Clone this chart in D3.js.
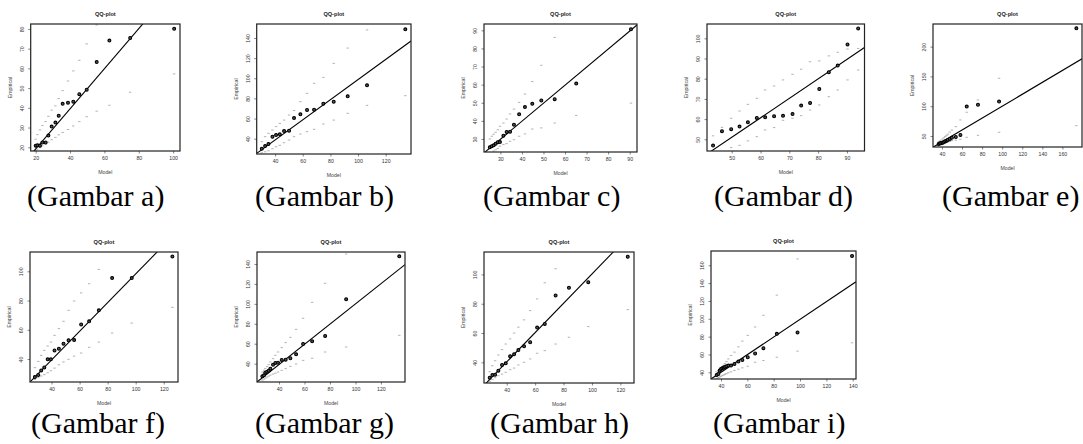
<!DOCTYPE html>
<html>
<head>
<meta charset="utf-8">
<script src="https://cdn.jsdelivr.net/npm/d3@7"></script>
<style>
  html, body { margin: 0; padding: 0; background: #fff; }
  svg { display: block; }
</style>
</head>
<body>
<svg id="chart" width="1083" height="444"></svg>
<script>
// ---------------- DATA ----------------
const panelIds = ["a", "b", "c", "d", "e", "f", "g", "h", "i"];
const captions = ["(Gambar a)", "(Gambar b)", "(Gambar c)", "(Gambar d)", "(Gambar e)",
                  "(Gambar f)", "(Gambar g)", "(Gambar h)", "(Gambar i)"];
const plotTitle = "QQ-plot";
const xLabel = "Model";
const yLabel = "Empirical";

// Panel a
const modelA = [20.0,21.0,22.5,23.9,25.8,27.4,29.3,31.5,33.4,35.7,38.8,41.9,45.4,49.7,55.5,62.9,75.0,100.6];
const empA   = [20.8,21.0,20.8,22.4,22.4,25.9,30.5,32.5,36.0,42.0,42.6,43.1,46.9,49.2,63.2,74.1,75.4,80.1];
const upperA = [24.1,26.4,28.8,31.0,33.0,35.7,38.8,41.0,44.7,48.7,53.6,58.7,64.1,72.4,82.0,95.0,115.0,150.0];
const lowerA = [18.3,19.0,19.8,20.7,21.6,22.6,23.8,25.0,26.3,27.5,29.0,30.8,33.0,35.5,38.3,41.3,47.9,57.2];
const xDomA = [17.1, 104.0], yDomA = [18.1, 82.5];
const xTicksA = [20,40,60,80,100], yTicksA = [20,30,40,50,60,70,80];
const lineA = [1.017, -1.2];

// Panel b
const modelB = [30.4,32.8,35.2,38.1,40.7,43.4,46.5,50.1,53.7,58.3,63.1,68.2,74.9,82.4,92.5,106.5,134.2];
const empB   = [30.1,32.7,34.7,42.0,43.6,44.3,47.6,48.0,60.5,64.2,68.5,68.8,74.8,76.8,82.1,93.0,148.6];
const upperB = [37.0,42.0,45.3,48.6,52.0,55.2,58.5,63.5,68.0,76.8,85.0,95.0,100.9,114.8,130.0,148.0,190.0];
const lowerB = [26.0,27.0,28.0,30.0,32.0,33.4,36.0,38.7,42.0,44.6,47.0,49.3,54.6,58.5,65.2,73.1,82.7];
const xDomB = [26.7, 138.3], yDomB = [24.8, 153.9];
const xTicksB = [40,60,80,100,120], yTicksB = [40,60,80,100,120,140];
const lineB = [1.0, -1.3];

// Panel c
const modelC = [25.1,26.0,26.9,27.8,28.8,29.8,31.4,32.9,34.5,36.3,38.7,41.4,44.8,49.0,55.2,65.2,90.6];
const empC   = [25.4,26.0,26.5,27.4,28.2,28.3,31.8,33.9,34.0,37.9,43.6,47.6,49.4,51.3,52.0,60.6,90.6];
const upperC = [30.0,31.5,32.6,33.7,35.1,37.0,38.8,41.0,43.8,46.5,50.2,54.8,61.7,70.7,86.1,110.0,160.0];
const lowerC = [22.0,22.6,23.3,24.0,24.8,26.0,26.9,27.4,28.7,29.6,31.5,32.8,35.5,36.1,38.8,43.0,49.8];
const xDomC = [22.4, 93.4], yDomC = [22.8, 93.5];
const xTicksC = [30,40,50,60,70,80,90], yTicksC = [30,40,50,60,70,80,90];
const lineC = [0.995, 0.0];

// Panel d
const modelD = [43.5,46.6,49.8,52.7,55.6,58.7,61.6,64.7,67.8,71.1,74.1,77.2,80.4,83.7,86.8,90.2,93.9];
const empD   = [46.9,54.0,55.0,56.3,58.4,60.6,60.9,61.4,61.6,62.5,66.7,68.0,74.9,83.2,86.5,97.0,104.9];
const upperD = [51.7,55.9,60.4,64.0,67.3,70.3,74.4,76.4,79.4,82.2,84.7,88.4,88.8,91.3,93.1,94.7,95.0];
const lowerD = [42.0,44.0,45.9,47.0,49.2,51.3,54.6,55.8,59.4,60.4,61.7,64.5,67.0,71.1,74.4,79.4,84.3];
const xDomD = [41.4, 96.1], yDomD = [44.2, 107.1];
const xTicksD = [50,60,70,80,90], yTicksD = [50,60,70,80,90,100];
const lineD = [0.964, 2.8];

// Panel e
const modelE = [36.7,38.0,39.3,40.7,42.0,43.3,44.6,45.9,47.9,49.9,53.8,58.4,64.7,75.9,96.9,173.9];
const empE   = [36.6,37.7,38.2,38.8,39.9,41.0,42.2,43.3,45.0,47.2,48.3,51.7,99.3,102.6,107.7,230.8];
const upperE = [40.0,41.5,43.0,45.0,47.0,49.0,51.0,53.0,56.5,60.0,65.7,76.9,89.8,110.5,146.9,300.0];
const lowerE = [33.0,34.0,35.0,36.0,37.0,38.0,39.0,40.0,41.0,42.0,43.0,44.4,47.8,51.1,56.2,67.4];
const xDomE = [31.1, 179.5], yDomE = [31.5, 238.0];
const xTicksE = [40,60,80,100,120,140,160], yTicksE = [50,100,150,200];
const lineE = [1.0, 0.0];

// Panel f
const modelF = [28.1,30.5,32.6,34.8,37.2,39.5,42.1,45.2,48.5,52.1,56.1,61.1,66.8,73.7,83.2,97.2,126.2];
const empF   = [27.7,29.1,32.2,34.3,39.8,39.8,45.9,47.1,50.5,52.8,53.0,63.7,65.8,73.3,95.4,95.4,110.2];
const upperF = [34.1,38.4,42.5,45.9,48.9,51.6,56.2,60.8,65.8,73.3,79.7,85.2,91.5,101.3,120.0,140.0,180.0];
const lowerF = [26.0,27.3,28.4,29.3,30.6,32.0,33.8,36.1,38.0,39.8,42.0,44.1,48.0,51.6,57.8,64.6,75.3];
const xDomF = [24.6, 130.2], yDomF = [24.3, 113.2];
const xTicksF = [40,60,80,100,120], yTicksF = [40,60,80,100];
const lineF = [0.98, 0.2];

// Panel g
const modelG = [26.9,28.2,29.2,30.6,31.9,33.2,35.3,37.1,39.2,42.1,45.2,48.9,53.4,58.9,66.0,76.2,92.7,134.4];
const empG   = [27.3,28.3,31.0,32.0,33.0,35.0,39.0,40.7,41.0,43.7,44.0,45.4,49.4,59.7,62.4,67.8,104.5,147.7];
const upperG = [31.5,33.3,35.0,37.0,39.0,41.7,45.0,48.4,51.7,56.1,61.1,66.4,74.4,85.5,101.5,120.6,150.0,220.0];
const lowerG = [23.5,24.5,25.5,26.5,27.5,28.5,29.5,30.5,31.6,33.3,35.0,37.3,39.7,43.3,45.4,51.7,56.7,68.4];
const xDomG = [22.7, 138.9], yDomG = [21.6, 152.0];
const xTicksG = [40,60,80,100,120], yTicksG = [40,60,80,100,120,140];
const lineG = [1.013, -1.4];

// Panel h
const modelH = [28.0,29.9,31.8,34.1,36.7,39.3,42.4,45.2,48.2,52.2,56.5,61.4,66.8,74.4,83.8,97.4,125.2];
const empH   = [29.5,31.3,31.6,34.3,38.2,39.3,44.1,45.5,48.4,50.9,53.7,63.7,66.2,85.6,90.9,94.7,112.1];
const upperH = [33.6,37.7,41.1,45.0,48.7,52.5,56.0,60.0,64.0,69.0,75.3,83.3,94.3,103.9,125.0,150.0,200.0];
const lowerH = [27.0,28.2,29.5,30.9,32.0,33.2,35.0,36.1,38.2,40.0,42.3,46.2,48.0,52.5,57.1,64.4,76.0];
const xDomH = [24.0, 129.6], yDomH = [25.9, 115.3];
const xTicksH = [40,60,80,100,120], yTicksH = [40,60,80,100];
const lineH = [1.0, 0.3];

// Panel i
const modelI = [36.7,38.0,39.0,40.0,41.0,42.0,43.0,44.1,45.6,47.6,50.2,53.2,56.2,60.3,65.9,72.2,82.4,98.1,139.5];
const empI   = [37.0,38.1,41.9,43.8,44.5,45.3,46.0,46.8,47.5,47.5,49.4,52.0,53.9,56.9,61.1,67.1,83.2,84.7,170.5];
const upperI = [40.5,42.0,43.5,45.0,46.5,48.0,49.8,52.0,55.0,58.8,62.6,68.6,75.0,81.4,90.8,103.9,126.5,167.1,250.0];
const lowerI = [33.2,34.0,34.8,35.6,36.3,37.0,37.8,38.5,39.5,40.5,42.0,43.5,45.0,46.8,51.3,53.2,56.9,63.7,73.1];
const xDomI = [32.4, 142.5], yDomI = [32.5, 176.0];
const xTicksI = [40,60,80,100,120,140], yTicksI = [40,60,80,100,120,140,160];
const lineI = [0.99, 0.4];

// ---------------- LAYOUT (pixel boxes of each plot frame) ----------------
const boxes = {
  a: {L: 30.7, R: 180, T: 24, B: 151},
  b: {L: 256.7, R: 411, T: 24, B: 154},
  c: {L: 484, R: 637, T: 24, B: 152},
  d: {L: 707, R: 864.5, T: 24, B: 151},
  e: {L: 933, R: 1082, T: 24, B: 147},
  f: {L: 30, R: 178, T: 252, B: 382},
  g: {L: 257, R: 405, T: 252, B: 382},
  h: {L: 484, R: 634, T: 252, B: 383},
  i: {L: 711, R: 856, T: 251, B: 379}
};
const captionPos = {
  a: [27, 206], b: [255, 206], c: [483, 206], d: [714, 206], e: [942, 206],
  f: [31, 433], g: [255, 433], h: [490, 433], i: [713, 433]
};

const panels = [
  {id:"a", model:modelA, emp:empA, upper:upperA, lower:lowerA, xd:xDomA, yd:yDomA, xt:xTicksA, yt:yTicksA, line:lineA},
  {id:"b", model:modelB, emp:empB, upper:upperB, lower:lowerB, xd:xDomB, yd:yDomB, xt:xTicksB, yt:yTicksB, line:lineB},
  {id:"c", model:modelC, emp:empC, upper:upperC, lower:lowerC, xd:xDomC, yd:yDomC, xt:xTicksC, yt:yTicksC, line:lineC},
  {id:"d", model:modelD, emp:empD, upper:upperD, lower:lowerD, xd:xDomD, yd:yDomD, xt:xTicksD, yt:yTicksD, line:lineD},
  {id:"e", model:modelE, emp:empE, upper:upperE, lower:lowerE, xd:xDomE, yd:yDomE, xt:xTicksE, yt:yTicksE, line:lineE},
  {id:"f", model:modelF, emp:empF, upper:upperF, lower:lowerF, xd:xDomF, yd:yDomF, xt:xTicksF, yt:yTicksF, line:lineF},
  {id:"g", model:modelG, emp:empG, upper:upperG, lower:lowerG, xd:xDomG, yd:yDomG, xt:xTicksG, yt:yTicksG, line:lineG},
  {id:"h", model:modelH, emp:empH, upper:upperH, lower:lowerH, xd:xDomH, yd:yDomH, xt:xTicksH, yt:yTicksH, line:lineH},
  {id:"i", model:modelI, emp:empI, upper:upperI, lower:lowerI, xd:xDomI, yd:yDomI, xt:xTicksI, yt:yTicksI, line:lineI}
];

// ---------------- DRAW ----------------
const svg = d3.select("#chart");
const sans = "'Liberation Sans', Arial, sans-serif";
const defs = svg.append("defs");

panels.forEach((p, k) => {
  const b = boxes[p.id];
  const x = d3.scaleLinear().domain(p.xd).range([b.L, b.R]);
  const y = d3.scaleLinear().domain(p.yd).range([b.B, b.T]);
  const g = svg.append("g").attr("class", "panel-" + p.id);

  defs.append("clipPath").attr("id", "clip-" + p.id)
    .append("rect").attr("x", b.L).attr("y", b.T)
    .attr("width", b.R - b.L).attr("height", b.B - b.T);

  const plot = g.append("g").attr("clip-path", "url(#clip-" + p.id + ")");

  // envelope dashes
  const env = [];
  p.model.forEach((m, j) => {
    env.push({x: m, y: p.upper[j]});
    env.push({x: m, y: p.lower[j]});
  });
  plot.selectAll("line.env").data(env.filter(d => d.y >= p.yd[0] && d.y <= p.yd[1]))
    .enter().append("line").attr("class", "env")
    .attr("x1", d => x(d.x) - 1.2).attr("x2", d => x(d.x) + 1.2)
    .attr("y1", d => y(d.y)).attr("y2", d => y(d.y))
    .attr("stroke", "#a0a0a0").attr("stroke-width", 0.8);

  // reference line
  const [s, c0] = p.line;
  plot.append("line")
    .attr("x1", x(p.xd[0])).attr("y1", y(s * p.xd[0] + c0))
    .attr("x2", x(p.xd[1])).attr("y2", y(s * p.xd[1] + c0))
    .attr("stroke", "#000").attr("stroke-width", 1.1);

  // points
  plot.selectAll("circle").data(p.model.map((m, j) => ({x: m, y: p.emp[j]})))
    .enter().append("circle")
    .attr("cx", d => x(d.x)).attr("cy", d => y(d.y)).attr("r", 1.45)
    .attr("fill", "#555").attr("stroke", "#000").attr("stroke-width", 1.1);

  // axes
  const xa = g.append("g").attr("transform", `translate(0,${b.B})`)
    .call(d3.axisBottom(x).tickValues(p.xt).tickSize(2.5).tickPadding(3).tickSizeOuter(0));
  xa.select(".domain").remove();
  xa.selectAll("text").attr("font-family", sans).attr("font-size", 5.2).attr("fill", "#333");
  xa.selectAll("line").attr("stroke", "#333").attr("stroke-width", 0.6);

  const ya = g.append("g").attr("transform", `translate(${b.L},0)`)
    .call(d3.axisLeft(y).tickValues(p.yt).tickSize(2.5).tickSizeOuter(0));
  ya.select(".domain").remove();
  ya.selectAll("text")
    .attr("x", 0).attr("y", -7).attr("dy", 0)
    .attr("text-anchor", "middle").attr("transform", "rotate(-90)")
    .attr("font-family", sans).attr("font-size", 5.2).attr("fill", "#333");
  ya.selectAll("line").attr("stroke", "#333").attr("stroke-width", 0.6);

  // frame
  g.append("rect").attr("x", b.L).attr("y", b.T)
    .attr("width", b.R - b.L).attr("height", b.B - b.T)
    .attr("fill", "none").attr("stroke", "#222").attr("stroke-width", 1.2);

  // titles
  g.append("text").attr("x", (b.L + b.R) / 2).attr("y", b.T - 8)
    .attr("text-anchor", "middle").attr("font-family", sans)
    .attr("font-weight", "bold").attr("font-size", 5.6).attr("fill", "#222")
    .text(plotTitle);
  g.append("text").attr("x", (b.L + b.R) / 2).attr("y", b.B + 23)
    .attr("text-anchor", "middle").attr("font-family", sans)
    .attr("font-size", 5.2).attr("fill", "#444").text(xLabel);
  g.append("text")
    .attr("transform", `translate(${b.L - 19},${(b.T + b.B) / 2}) rotate(-90)`)
    .attr("text-anchor", "middle").attr("font-family", sans)
    .attr("font-size", 5.2).attr("fill", "#444").text(yLabel);

  // caption
  const cp = captionPos[p.id];
  svg.append("text").attr("x", cp[0]).attr("y", cp[1])
    .attr("font-family", "'Liberation Serif', 'Times New Roman', serif")
    .attr("font-size", 30).attr("fill", "#000").text(captions[k]);
});
</script>
</body>
</html>
